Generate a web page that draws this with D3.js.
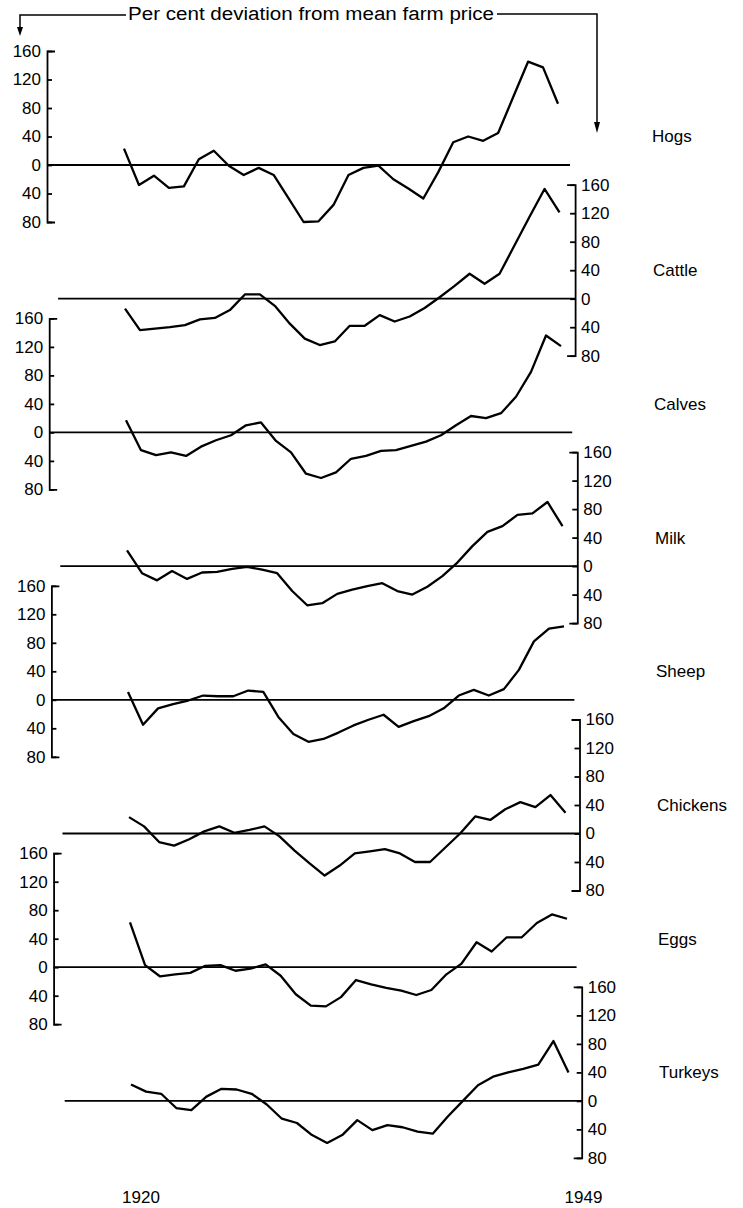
<!DOCTYPE html>
<html>
<head>
<meta charset="utf-8">
<script src="https://cdn.jsdelivr.net/npm/d3@7/dist/d3.min.js"></script>
<style>
  body { margin: 0; background: #fff; }
  text { font-family: "Liberation Sans", Arial, sans-serif; fill: #000; }
</style>
</head>
<body>
<svg id="chart" width="743" height="1208"></svg>
<script>
// Years on the x axis
const years = [1920, 1921, 1922, 1923, 1924, 1925, 1926, 1927, 1928, 1929,
               1930, 1931, 1932, 1933, 1934, 1935, 1936, 1937, 1938, 1939,
               1940, 1941, 1942, 1943, 1944, 1945, 1946, 1947, 1948, 1949];

// Per cent deviation from mean farm price
const hogs     = [23, -28, -15, -32, -30, 8, 20, -1, -14, -4, -14, -47, -80, -79, -56, -14, -4, -1, -20, -33, -47, -10, 32, 40, 34, 45, 95, 145, 137, 86];
const cattle   = [-14, -44, -42, -40, -37, -29, -27, -16, 6, 6, -10, -35, -56, -65, -60, -38, -38, -23, -32, -25, -13, 2, 18, 35, 21, 35, 75, 115, 154, 121];
const calves   = [17, -25, -32, -28, -33, -20, -11, -4, 10, 14, -12, -28, -58, -64, -56, -37, -33, -26, -25, -19, -13, -4, 10, 23, 20, 27, 50, 85, 136, 121];
const milk     = [22, -10, -20, -7, -18, -9, -8, -4, -1, -5, -10, -35, -55, -52, -39, -33, -28, -24, -35, -40, -29, -14, 5, 28, 48, 56, 72, 74, 90, 56];
const sheep    = [11, -35, -12, -6, -1, 6, 5, 5, 13, 11, -24, -48, -59, -55, -46, -36, -28, -21, -38, -30, -23, -12, 6, 14, 6, 15, 42, 82, 100, 103];
const chickens = [23, 10, -12, -17, -8, 3, 10, 1, 5, 10, -4, -24, -42, -59, -45, -28, -25, -22, -28, -40, -40, -20, 0, 24, 19, 34, 44, 37, 54, 29];
const eggs     = [63, 3, -13, -10, -8, 2, 3, -5, -2, 4, -12, -38, -54, -55, -42, -18, -24, -29, -33, -39, -32, -10, 5, 35, 22, 42, 42, 62, 74, 68];
const turkeys  = [23, 13, 10, -10, -13, 6, 17, 16, 10, -5, -25, -31, -48, -59, -48, -27, -41, -34, -37, -43, -46, -22, 0, 22, 34, 40, 45, 51, 84, 40];

const names = ['Hogs', 'Cattle', 'Calves', 'Milk', 'Sheep', 'Chickens', 'Eggs', 'Turkeys'];
const series = [hogs, cattle, calves, milk, sheep, chickens, eggs, turkeys];
const tickValues = [-80, -40, 0, 40, 80, 120, 160];
const yearLabels = [1920, 1949];
const titleText = 'Per cent deviation from mean farm price';

const svg = d3.select('#chart');
const zeroTop = 165, step = 133.7;

names.forEach((name, k) => {
    const dx = k * 1.1;                 // the scanned page leans a little
    const zero = zeroTop + k * step;
    const left = k % 2 === 0;

    const x = d3.scaleLinear()
        .domain([1920, 1949])
        .range([124 + k, 558 + k * 1.5]);

    const y = d3.scaleLinear()
        .domain([-80, 160])
        .range([zero + 57, zero - 114]);

    const g = svg.append('g');
    const axisX = left ? 47 + dx : 574 + dx;

    // zero line
    g.append('line')
        .attr('x1', left ? axisX : 57 + dx)
        .attr('x2', left ? 570 + dx : axisX)
        .attr('y1', y(0))
        .attr('y2', y(0))
        .attr('stroke', '#000')
        .attr('stroke-width', 1.8);

    const axis = (left ? d3.axisLeft(y) : d3.axisRight(y))
        .tickValues(tickValues)
        .tickSizeInner(-5)
        .tickSizeOuter(-8)
        .tickPadding(6)
        .tickFormat(d => Math.abs(d));

    g.append('g')
        .attr('transform', `translate(${axisX},0)`)
        .call(axis)
        .call(a => {
            a.attr('font-size', null).attr('font-family', null);
            a.selectAll('path, line').attr('stroke-width', 1.8);
            a.selectAll('text').attr('font-size', 17);
        });

    const line = d3.line()
        .x((d, i) => x(years[i]))
        .y(d => y(d));

    g.append('path')
        .datum(series[k])
        .attr('fill', 'none')
        .attr('stroke', '#000')
        .attr('stroke-width', 2.3)
        .attr('stroke-linejoin', 'round')
        .attr('d', line);

    g.append('text')
        .attr('x', 652 + k)
        .attr('y', y(40))
        .attr('dy', '0.35em')
        .attr('font-size', 17)
        .text(name);

    // year labels under the last panel
    if (k === names.length - 1) {
        svg.selectAll('.year')
            .data(yearLabels)
            .enter().append('text')
            .attr('class', 'year')
            .attr('x', (d, i) => x(d) + (i ? 15 : 10))
            .attr('y', 1203)
            .attr('text-anchor', 'middle')
            .attr('font-size', 17)
            .text(d => d);
    }
});

// title with bracket arrows to the left and right axes
svg.append('text')
    .attr('x', 311)
    .attr('y', 20)
    .attr('text-anchor', 'middle')
    .attr('font-size', 18)
    .attr('textLength', 366)
    .attr('lengthAdjust', 'spacingAndGlyphs')
    .text(titleText);

svg.append('path')
    .attr('d', 'M126,15H20V31')
    .attr('fill', 'none')
    .attr('stroke', '#000')
    .attr('stroke-width', 1.5);
svg.append('path')
    .attr('d', 'M497,14H597V128')
    .attr('fill', 'none')
    .attr('stroke', '#000')
    .attr('stroke-width', 1.5);
svg.append('path')
    .attr('d', 'M17,27L20,36L23,27Z')
    .attr('fill', '#000');
svg.append('path')
    .attr('d', 'M594,122L597,133L600,122Z')
    .attr('fill', '#000');
</script>
</body>
</html>
